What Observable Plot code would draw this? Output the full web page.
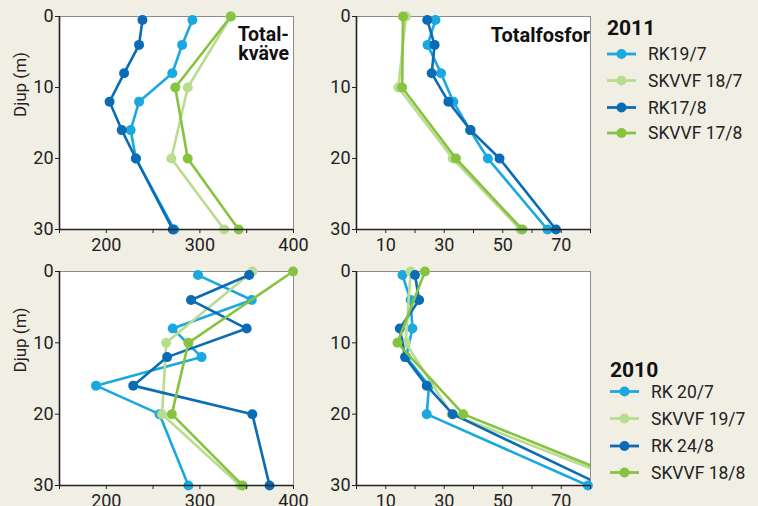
<!DOCTYPE html>
<html><head><meta charset="utf-8">
<script src="https://cdn.jsdelivr.net/npm/d3@7"></script>
<script src="https://cdn.jsdelivr.net/npm/@observablehq/plot@0.6"></script>
<style>
body{margin:0;background:#f1efe4;}
#root{position:relative;width:758px;height:506px;overflow:hidden;background:#f1efe4;font-family:Roboto,sans-serif;}
.panel{position:absolute;}
</style></head><body><div id="root"></div>
<script>
// depths (m)
const rkDepths = [0.5, 4, 8, 12, 16, 20, 30];
const skDepths = [0, 10, 20, 30];
const depthTicks = [0, 10, 20, 30];
const nTicks = [150, 200, 250, 300, 350, 400];
const pTicks = [0, 10, 20, 30, 40, 50, 60, 70, 80];
const labels2011 = ["RK19/7", "SKVVF 18/7", "RK17/8", "SKVVF 17/8"];
const labels2010 = ["RK 20/7", "SKVVF 19/7", "RK 24/8", "SKVVF 18/8"];
const colors = ["#1aa8e0", "#b9dc8f", "#0b6cb5", "#86c340"];
// Totalkväve 2011
const n11_rk1 = [292, 281, 270.5, 235, 226, 231.6, 272.6];
const n11_sk1 = [333, 287, 269.5, 326];
const n11_rk2 = [238.6, 235, 219, 203.5, 216.5, 231.6, 271];
const n11_sk2 = [333, 273.7, 287, 341.4];
// Totalfosfor 2011
const p11_rk1 = [27, 24.3, 28.9, 33.1, 38.8, 44.9, 65.3];
const p11_sk1 = [16.9, 14.3, 32.9, 56.0];
const p11_rk2 = [24.2, 26.7, 25.7, 31.4, 39, 48.9, 68.2];
const p11_sk2 = [15.9, 15.6, 34.0, 56.7];
// Totalkväve 2010
const n10_rk1 = [298, 355.4, 271, 301.8, 189, 256.8, 287.7];
const n10_sk1 = [356, 264, 259.6, 343];
const n10_rk2 = [352.6, 290.5, 350, 265, 228.8, 356, 374.4];
const n10_sk2 = [399.5, 287.7, 270, 345.6];
// Totalfosfor 2010
const p10_rk1 = [15.7, 18.5, 19.1, 17, 24.8, 24.0, 79.1];
const p10_sk1 = [18.5, 16.8, 32.5, 95];
const p10_rk2 = [20, 21.4, 14.8, 16.6, 24, 32.9, 84];
const p10_sk2 = [23.4, 14.0, 36.5, 97];

const root = document.getElementById("root");

function mkSeries(vals) {
  const depthsList = [rkDepths, skDepths, rkDepths, skDepths];
  return vals.map((v, i) => v.map((x, j) => ({x, y: depthsList[i][j]})));
}

function panel({vals, domain, ticks, labelEvery, left, top, width, height, mt, mb, ml, mr, title, titleSize, ylabel}) {
  const series = mkSeries(vals);
  const marks = [Plot.frame({fill: "white", stroke: "#8c8c8c", strokeWidth: 1})];
  series.forEach((rows, i) => {
    marks.push(Plot.line(rows, {x: "x", y: "y", stroke: colors[i], strokeWidth: 2.6, clip: true}));
    marks.push(Plot.dot(rows, {x: "x", y: "y", fill: colors[i], r: 5, filter: d => d.x <= domain[1]}));
  });
  marks.push(Plot.ruleX([domain[0]], {stroke: "#222", strokeWidth: 1.6}));
  marks.push(Plot.ruleY([30], {stroke: "#222", strokeWidth: 1.6}));
  marks.push(Plot.axisX({ticks, tickSize: 4, tickPadding: 5, tickFormat: d => (d % labelEvery === (labelEvery === 20 ? 10 : 0)) ? d : "", label: null}));
  marks.push(Plot.axisY({ticks: depthTicks, tickSize: 4, tickPadding: 2, label: null}));
  if (title) marks.push(Plot.text(title.split("\n"), {frameAnchor: "top-right", dx: -2, dy: (d, i) => 0, y: null, textAnchor: "end", lineAnchor: "top", fontWeight: "bold", fontSize: titleSize, fill: "#111"}));
  if (ylabel) marks.push(Plot.text([ylabel], {frameAnchor: "left", dx: -39, dy: -6, rotate: -90, fontSize: 17, fill: "#222"}));
  const svg = Plot.plot({
    width, height, marginTop: mt, marginBottom: mb, marginLeft: ml, marginRight: mr,
    x: {domain, axis: null},
    y: {domain: [0, 30], reverse: true, axis: null},
    style: {fontSize: "18px", fontFamily: "Roboto, sans-serif", color: "#222", background: "transparent", overflow: "visible"},
    marks
  });
  const div = document.createElement("div");
  div.className = "panel";
  div.style.left = left + "px";
  div.style.top = top + "px";
  div.appendChild(svg);
  root.appendChild(div);
  return svg;
}

function titleMark(lines, size, dxs, dys) {
  return lines;
}

const s1 = panel({vals: [n11_rk1, n11_sk1, n11_rk2, n11_sk2], domain: [150, 400], ticks: nTicks, labelEvery: 100,
  left: 0, top: 0, width: 300, height: 256, mt: 16, mb: 27, ml: 59, mr: 7, ylabel: "Djup (m)"});
panel({vals: [p11_rk1, p11_sk1, p11_rk2, p11_sk2], domain: [0, 80], ticks: pTicks, labelEvery: 20,
  left: 300, top: 0, width: 300, height: 256, mt: 16, mb: 27, ml: 56, mr: 10});
panel({vals: [n10_rk1, n10_sk1, n10_rk2, n10_sk2], domain: [150, 400], ticks: nTicks, labelEvery: 100,
  left: 0, top: 254, width: 300, height: 252, mt: 17, mb: 21, ml: 59, mr: 7, ylabel: "Djup (m)"});
panel({vals: [p10_rk1, p10_sk1, p10_rk2, p10_sk2], domain: [0, 80], ticks: pTicks, labelEvery: 20,
  left: 300, top: 254, width: 300, height: 252, mt: 17, mb: 21, ml: 56, mr: 10});

// overlay: panel titles and legends
const ov = d3.select(root).append("svg")
  .attr("width", 758).attr("height", 506)
  .style("position", "absolute").style("left", 0).style("top", 0)
  .style("pointer-events", "none");
const panelTitles = [
  {text: "Total-", x: 289, y: 41, size: 19.5},
  {text: "kväve", x: 289, y: 60, size: 19.5},
  {text: "Totalfosfor", x: 590, y: 42, size: 20}
];
panelTitles.forEach(t => {
  ov.append("text").attr("x", t.x).attr("y", t.y).attr("text-anchor", "end").text(t.text)
    .attr("font-family", "Roboto, sans-serif").attr("font-weight", "bold").attr("font-size", t.size).attr("fill", "#111");
});
function legend(year, labels, x0, yHead, ys) {
  ov.append("text").attr("x", x0).attr("y", yHead).text(year)
    .attr("font-family", "Roboto, sans-serif").attr("font-weight", "bold").attr("font-size", 21).attr("fill", "#111");
  labels.forEach((lab, i) => {
    const y = ys[i];
    ov.append("line").attr("x1", x0).attr("x2", x0 + 29).attr("y1", y).attr("y2", y)
      .attr("stroke", colors[i]).attr("stroke-width", 2.8);
    ov.append("circle").attr("cx", x0 + 14.5).attr("cy", y).attr("r", 5).attr("fill", colors[i]);
    ov.append("text").attr("x", x0 + 41).attr("y", y).attr("dy", "0.36em").text(lab)
      .attr("font-family", "Roboto, sans-serif").attr("font-size", 17.5).attr("fill", "#222");
  });
}
legend("2011", labels2011, 607, 35, [54, 80.5, 107.5, 133]);
legend("2010", labels2010, 610, 377, [391.5, 418.5, 446, 472.5]);
</script></body></html>
